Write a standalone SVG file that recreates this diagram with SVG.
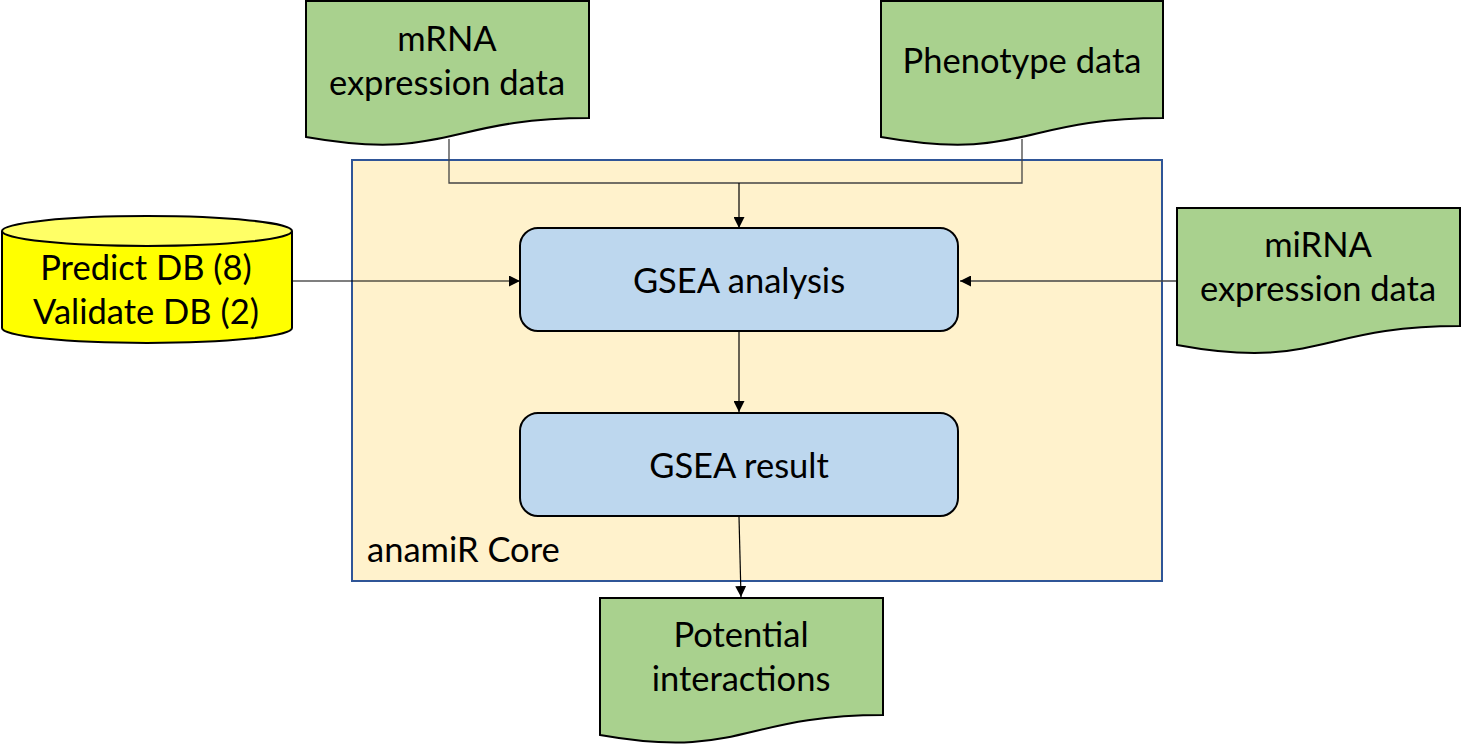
<svg xmlns="http://www.w3.org/2000/svg" width="1462" height="745" viewBox="0 0 1462 745">
<style>
.doc{fill:#A9D18E;stroke:#000;stroke-width:2}
.proc{fill:#BDD7EE;stroke:#000;stroke-width:2}
.t{font-family:Lato,"Open Sans",sans-serif;font-size:34.5px;fill:#000;text-anchor:middle}
.c{fill:none;stroke:#000;stroke-width:1.2}
.cg{fill:none;stroke:#444;stroke-width:1.3}
</style>
<defs>
<marker id="ah" viewBox="0 0 10 10" refX="10" refY="5" markerWidth="11" markerHeight="11" markerUnits="userSpaceOnUse" orient="auto">
<path d="M0,0 L10,5 L0,10 Z" fill="#000"/>
</marker>
</defs>
<g id="core">
<rect x="352" y="160" width="810" height="421" fill="#FFF2CC" stroke="#2F5597" stroke-width="2"/>
<text x="367" y="562" class="t" style="text-anchor:start">anamiR Core</text>
</g>
<g id="connectors">
<polyline class="cg" points="449,139 449,183 1022,183 1022,139"/>
<line class="c" x1="739" y1="183" x2="739" y2="228" marker-end="url(#ah)"/>
<line class="c" x1="292" y1="281" x2="520" y2="281" marker-end="url(#ah)"/>
<line class="cg" x1="1177" y1="281" x2="960" y2="281" marker-end="url(#ah)"/>
<line class="c" x1="739" y1="331" x2="739" y2="412" marker-end="url(#ah)"/>
<line class="c" x1="739" y1="517" x2="741" y2="597" marker-end="url(#ah)"/>
</g>
<g id="mrna">
<path class="doc" d="M306,1 H589 V118 C447,118 447,162 306,137 Z"/>
<text x="447" y="51" class="t">mRNA</text>
<text x="447" y="95" class="t">expression data</text>
</g>
<g id="phenotype">
<path class="doc" d="M881,1 H1163 V118 C1022,118 1022,162 881,137 Z"/>
<text x="1022" y="73" class="t">Phenotype data</text>
</g>
<g id="mirna">
<path class="doc" d="M1177,208 H1460 V326 C1318,326 1318,371 1177,345 Z"/>
<text x="1318" y="257" class="t">miRNA</text>
<text x="1318" y="301" class="t">expression data</text>
</g>
<g id="potential">
<path class="doc" d="M600,598 H883 V715 C741,715 741,760 600,735 Z"/>
<text x="741" y="647" class="t">Potential</text>
<text x="741" y="691" class="t">interactions</text>
</g>
<g id="db">
<path d="M2,231 V328 A145,15 0 0 0 292,328 V231" fill="#FFFF00" stroke="#000" stroke-width="2"/>
<ellipse cx="147" cy="231" rx="145" ry="15" fill="#FFFF66" stroke="#000" stroke-width="2"/>
<text x="146" y="280" class="t">Predict DB (8)</text>
<text x="146" y="324" class="t">Validate DB (2)</text>
</g>
<g id="gsea-analysis">
<rect class="proc" x="520" y="228" width="438" height="103" rx="18"/>
<text x="739" y="293" class="t">GSEA analysis</text>
</g>
<g id="gsea-result">
<rect class="proc" x="520" y="413" width="438" height="103" rx="18"/>
<text x="739" y="478" class="t">GSEA result</text>
</g>
</svg>
